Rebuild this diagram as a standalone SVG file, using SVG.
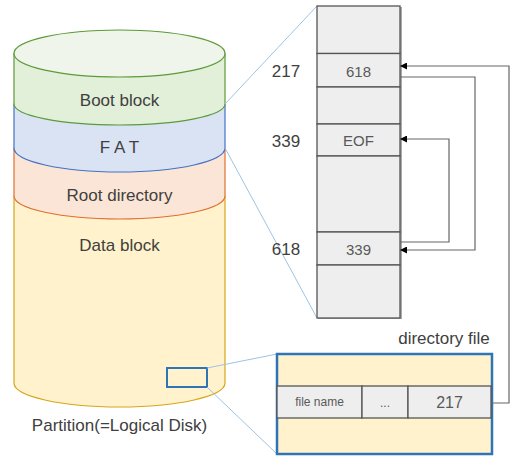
<svg xmlns="http://www.w3.org/2000/svg" width="531" height="466" viewBox="0 0 531 466">
<defs>
<style>
text{font-family:"Liberation Sans",Arial,sans-serif;fill:#404040;text-anchor:middle;dominant-baseline:central}
.lbl{font-size:17px}
.cell{fill:#eeeeee;stroke:#555555;stroke-width:1.3}
.ct{font-size:15px;fill:#595959}
.guide{fill:none;stroke:#9dc3e6;stroke-width:1}
.conn{fill:none;stroke:#666666;stroke-width:1.2}
</style>
<marker id="ah" viewBox="0 0 10 10" refX="10" refY="5" markerWidth="7" markerHeight="7" orient="auto" markerUnits="userSpaceOnUse">
<path d="M0,0 L10,5 L0,10 Z" fill="#000"/>
</marker>
</defs>
<rect width="531" height="466" fill="#ffffff"/>

<g id="partition">
<path d="M14,196 L14,383 A105.5,24 0 0 0 225,383 L225,196 Z" fill="#fff2cc" stroke="#d6a619" stroke-width="1.2"/>
<path d="M14,148 L14,196 A105.5,23 0 0 0 225,196 L225,148 Z" fill="#fbe5d6" stroke="#e07030" stroke-width="1.2"/>
<path d="M14,104 L14,148 A105.5,24 0 0 0 225,148 L225,104 Z" fill="#dae3f3" stroke="#4472c4" stroke-width="1.2"/>
<path d="M14,53.5 L14,104 A105.5,21 0 0 0 225,104 L225,53.5 Z" fill="#e2efd9" stroke="#5d9a3a" stroke-width="1.2"/>
<ellipse cx="119.5" cy="53.5" rx="105.5" ry="23.5" fill="#eff5ea" stroke="#5d9a3a" stroke-width="1.2"/>
<text class="lbl" x="119.5" y="100">Boot block</text>
<text class="lbl" x="119.5" y="147">F A T</text>
<text class="lbl" x="119.5" y="195">Root directory</text>
<text class="lbl" x="119.5" y="245">Data block</text>
<text class="lbl" x="119.5" y="425">Partition(=Logical Disk)</text>
<rect x="167" y="368" width="40" height="19" fill="none" stroke="#2e75b6" stroke-width="2"/>
</g>

<g id="guides">
<line class="guide" x1="225" y1="104" x2="317" y2="6"/>
<line class="guide" x1="225" y1="148" x2="317" y2="318"/>
<line class="guide" x1="207" y1="368" x2="277" y2="354"/>
<line class="guide" x1="207" y1="387" x2="277" y2="454"/>
</g>

<g id="fat-table">
<rect x="318" y="7" width="84" height="312" fill="#aaaaaa"/>
<rect class="cell" x="317" y="6" width="83" height="47.5"/>
<rect class="cell" x="317" y="53.5" width="83" height="33.5"/>
<rect class="cell" x="317" y="87" width="83" height="37"/>
<rect class="cell" x="317" y="124" width="83" height="32"/>
<rect class="cell" x="317" y="156" width="83" height="76"/>
<rect class="cell" x="317" y="232" width="83" height="33"/>
<rect class="cell" x="317" y="265" width="83" height="53"/>
<text class="ct" x="358.5" y="71">618</text>
<text class="ct" x="358.5" y="140">EOF</text>
<text class="ct" x="358.5" y="249">339</text>
<text class="lbl" x="286" y="71">217</text>
<text class="lbl" x="286" y="141">339</text>
<text class="lbl" x="286" y="249">618</text>
</g>

<g id="directory-file">
<text class="lbl" x="444" y="338">directory file</text>
<rect x="277" y="354" width="215" height="100" fill="#fff2cc" stroke="#2e75b6" stroke-width="2.5"/>
<rect class="cell" x="277" y="386" width="85" height="32"/>
<rect class="cell" x="362" y="386" width="46" height="32"/>
<rect class="cell" x="408" y="386" width="83" height="32"/>
<text x="319.5" y="402" style="font-size:12px;fill:#595959">file name</text>
<text x="385" y="403" style="font-size:12px;fill:#595959">...</text>
<text x="449.5" y="402" style="font-size:16px;fill:#595959">217</text>
</g>

<g id="connectors">
<polyline class="conn" points="491,403 509,403 509,66 400,66" marker-end="url(#ah)"/>
<polyline class="conn" points="400,77 475,77 475,250 400,250" marker-end="url(#ah)"/>
<polyline class="conn" points="400,242 449,242 449,139 400,139" marker-end="url(#ah)"/>
</g>
</svg>
